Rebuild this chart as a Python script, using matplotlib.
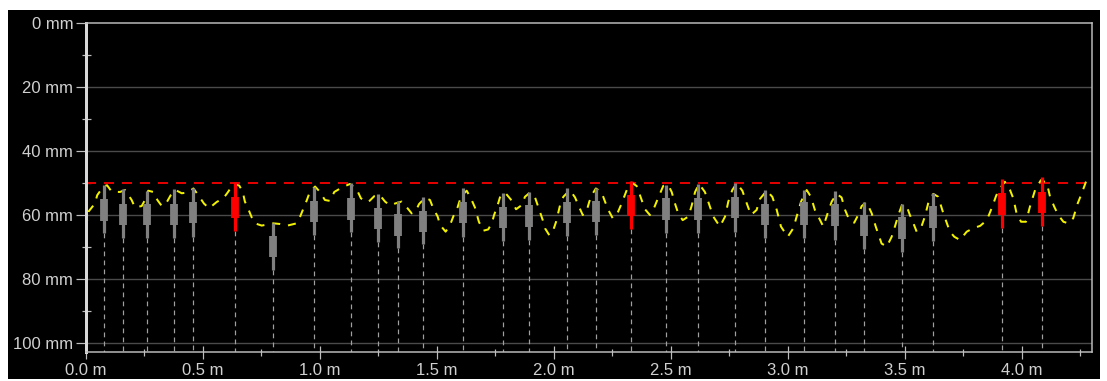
import matplotlib
matplotlib.use("Agg")
import matplotlib.pyplot as plt
from matplotlib.patches import Rectangle
from matplotlib.ticker import FixedLocator, FixedFormatter

# ---- data -------------------------------------------------------------
# distance along the run (m) of each measured element
candle_x = [0.077, 0.157, 0.259, 0.376, 0.456, 0.638, 0.800, 0.973, 1.131,
            1.247, 1.332, 1.441, 1.612, 1.783, 1.893, 2.057, 2.179, 2.330,
            2.477, 2.617, 2.775, 2.903, 3.067, 3.201, 3.325, 3.486, 3.621,
            3.913, 4.084]
# depth statistics (mm): extreme min, lower quartile, upper quartile, extreme max
wick_top = [50.6, 52.0, 52.4, 52.0, 51.7, 49.7, 62.4, 51.1, 50.1, 53.4, 55.5,
            54.3, 51.7, 53.0, 52.7, 51.7, 51.4, 49.4, 50.6, 50.3, 50.1, 52.2,
            52.2, 52.5, 55.8, 56.4, 53.0, 48.9, 48.2]
body_top = [55.1, 56.4, 56.4, 56.4, 55.8, 54.3, 66.6, 55.5, 54.6, 57.7, 59.8,
            58.6, 56.0, 57.4, 56.9, 56.0, 55.6, 53.8, 54.8, 54.6, 54.3, 56.4,
            55.8, 56.4, 60.0, 60.7, 57.2, 53.2, 52.7]
body_bottom = [61.8, 63.1, 63.1, 63.1, 62.6, 60.8, 73.2, 62.1, 61.4, 64.5, 66.6,
               65.2, 62.6, 64.2, 63.6, 62.6, 62.3, 60.3, 61.4, 61.4, 60.8, 63.1,
               63.1, 63.4, 66.6, 67.5, 63.9, 60.0, 59.5]
wick_bottom = [65.7, 67.3, 67.3, 67.3, 66.8, 64.9, 77.2, 66.3, 65.2, 68.3, 70.4,
               69.1, 66.8, 68.0, 67.8, 66.6, 66.3, 64.5, 65.5, 65.5, 65.2, 67.3,
               67.3, 67.8, 70.7, 71.5, 68.1, 64.2, 63.4]

# continuous profile trace (m, mm)
profile_x = [0.000, 0.010, 0.038, 0.048, 0.074, 0.090, 0.110, 0.145, 0.167,
             0.195, 0.209, 0.238, 0.252, 0.266, 0.288, 0.305, 0.324, 0.342,
             0.362, 0.383, 0.409, 0.433, 0.459, 0.480, 0.504, 0.526, 0.559,
             0.587, 0.608, 0.629, 0.655, 0.670, 0.679, 0.694, 0.708, 0.722,
             0.751, 0.772, 0.800, 0.829, 0.861, 0.900, 0.915, 0.929, 0.943,
             0.957, 0.979, 1.000, 1.021, 1.043, 1.061, 1.093, 1.128, 1.157,
             1.175, 1.206, 1.232, 1.256, 1.278, 1.299, 1.321, 1.349, 1.371,
             1.392, 1.413, 1.423, 1.449, 1.470, 1.484, 1.503, 1.513, 1.537,
             1.556, 1.570, 1.588, 1.603, 1.627, 1.645, 1.662, 1.679, 1.698,
             1.719, 1.735, 1.744, 1.758, 1.769, 1.791, 1.815, 1.838, 1.862,
             1.876, 1.897, 1.919, 1.937, 1.952, 1.962, 1.980, 1.997, 2.009,
             2.026, 2.040, 2.068, 2.090, 2.108, 2.123, 2.140, 2.151, 2.161,
             2.179, 2.204, 2.218, 2.232, 2.251, 2.271, 2.289, 2.311, 2.332,
             2.353, 2.375, 2.389, 2.410, 2.427, 2.446, 2.467, 2.488, 2.503,
             2.517, 2.531, 2.550, 2.574, 2.588, 2.603, 2.620, 2.645, 2.662,
             2.681, 2.709, 2.731, 2.745, 2.762, 2.781, 2.805, 2.824, 2.842,
             2.866, 2.880, 2.909, 2.933, 2.952, 2.970, 2.999, 3.023, 3.037,
             3.056, 3.080, 3.098, 3.115, 3.137, 3.151, 3.172, 3.187, 3.208,
             3.229, 3.244, 3.261, 3.283, 3.300, 3.315, 3.336, 3.358, 3.375,
             3.400, 3.422, 3.443, 3.457, 3.474, 3.487, 3.507, 3.521, 3.535,
             3.550, 3.568, 3.585, 3.600, 3.621, 3.642, 3.664, 3.678, 3.692,
             3.711, 3.735, 3.764, 3.792, 3.821, 3.842, 3.856, 3.873, 3.888,
             3.899, 3.927, 3.949, 3.963, 3.977, 3.996, 4.017, 4.034, 4.056,
             4.081, 4.106, 4.120, 4.138, 4.155, 4.177, 4.198, 4.219, 4.238,
             4.255, 4.277, 4.284]
profile_mm = [64.0, 59.0, 56.4, 53.8, 51.1, 50.7, 52.7, 52.8, 52.2, 55.3, 57.6,
              57.2, 55.3, 52.4, 52.8, 55.3, 57.2, 56.4, 53.8, 52.2, 53.2, 53.0,
              51.7, 53.8, 56.4, 57.9, 55.9, 54.8, 52.7, 50.3, 50.8, 52.8, 55.8,
              58.2, 60.7, 62.6, 63.3, 63.0, 62.6, 62.8, 63.3, 62.6, 60.5, 58.0,
              55.5, 52.7, 51.1, 52.8, 55.3, 55.6, 52.8, 51.4, 50.3, 52.0, 54.8,
              56.0, 54.1, 53.8, 55.8, 57.0, 56.4, 55.8, 57.6, 59.5, 58.2, 56.6,
              54.6, 55.3, 57.9, 60.5, 63.1, 65.2, 63.1, 60.4, 57.6, 54.1, 52.4,
              54.8, 57.6, 62.1, 64.9, 64.5, 62.4, 60.0, 57.2, 54.5, 53.0, 55.1,
              58.2, 56.9, 54.3, 53.0, 54.5, 58.4, 61.6, 64.2, 66.3, 64.7, 62.1,
              56.9, 54.3, 52.2, 54.5, 57.6, 60.0, 58.6, 55.8, 53.8, 51.7, 53.0,
              55.8, 58.4, 61.0, 59.5, 56.4, 52.2, 49.9, 50.9, 55.3, 58.2, 60.0,
              57.9, 54.5, 50.9, 50.6, 52.8, 56.4, 59.5, 61.6, 60.5, 57.2, 52.8,
              50.3, 52.8, 56.4, 60.5, 63.6, 60.5, 55.8, 52.2, 50.1, 52.4, 56.4,
              60.0, 58.4, 55.0, 52.4, 54.3, 58.4, 63.6, 66.8, 64.1, 60.5, 55.8,
              52.2, 54.3, 58.4, 61.6, 63.6, 58.9, 55.8, 53.4, 54.5, 58.4, 61.4,
              62.4, 60.0, 57.2, 56.0, 59.5, 63.6, 68.9, 69.9, 66.8, 63.6, 59.5,
              56.9, 57.2, 60.0, 62.4, 65.2, 64.1, 60.5, 56.1, 53.4, 54.3, 59.5,
              62.4, 65.2, 66.8, 67.8, 65.2, 64.1, 63.4, 62.1, 60.5, 57.4, 54.3,
              52.4, 49.6, 52.2, 54.8, 59.5, 62.1, 62.1, 57.4, 52.2, 49.1, 49.9,
              54.3, 57.4, 60.0, 62.1, 62.6, 61.0, 56.4, 53.3, 48.9, 48.3]

limit_mm = 50.0

y_ticks = [0, 20, 40, 60, 80, 100]
y_minor = [10, 30, 50, 70, 90]
y_labels = ["0 mm", "20 mm", "40 mm", "60 mm", "80 mm", "100 mm"]
x_ticks = [0.0, 0.5, 1.0, 1.5, 2.0, 2.5, 3.0, 3.5, 4.0]
x_minor = [0.25, 0.75, 1.25, 1.75, 2.25, 2.75, 3.25, 3.75, 4.25]
x_labels = ["0.0 m", "0.5 m", "1.0 m", "1.5 m", "2.0 m", "2.5 m", "3.0 m",
            "3.5 m", "4.0 m"]

# ---- figure -----------------------------------------------------------
W, H = 1107, 381
plt.rcParams["font.family"] = ["Liberation Sans", "DejaVu Sans"]
fig = plt.figure(figsize=(W / 100, H / 100), dpi=100, facecolor="white")
fig.patches.append(Rectangle((8 / W, 1 - 379 / H), (1100 - 8) / W, (379 - 10) / H,
                             transform=fig.transFigure, facecolor="black",
                             edgecolor="none", zorder=-10))

ax = fig.add_axes([86 / W, 1 - 352 / H, (1091.7 - 86) / W, (352 - 23) / H])
ax.set_zorder(1)
ax.set_facecolor("black")
ax.set_xlim(0, 4.298)
ax.set_ylim(102.8, 0)

PX = 0.72  # points per pixel
label_col = "#d0d0d0"
frame_col = "#bdbdbd"

# horizontal grid
for v in y_ticks[1:]:
    ax.axhline(v, color="#4a4a4a", lw=1.4 * PX, zorder=1)

# drop lines from each element to the axis
ax.vlines(candle_x, wick_bottom, [102.8] * len(candle_x), colors="#a0a0a0",
          lw=1.2 * PX, linestyles=(0, (4, 3.5)), zorder=2)

# limit line
ax.axhline(limit_mm, color="#e00000", lw=2 * PX, ls=(0, (5, 4)), zorder=3)

# profile trace
ax.plot(profile_x, profile_mm, color="#f2f200", lw=2 * PX, ls=(0, (4, 4)),
        zorder=4)

# elements: wick + body, red where the limit is exceeded
colors = ["#ff0000" if t < limit_mm else "#808080" for t in wick_top]
ax.vlines(candle_x, wick_top, wick_bottom, colors=colors, lw=3.2 * PX, zorder=5)
ax.vlines(candle_x, body_top, body_bottom, colors=colors, lw=7.8 * PX, zorder=6)

# frame
for side in ("top", "right", "bottom"):
    ax.spines[side].set_color(frame_col)
    ax.spines[side].set_linewidth(1.5 * PX)
ax.spines["left"].set_color("#d8d8d8")
ax.spines["left"].set_linewidth(3 * PX)
for s in ax.spines.values():
    s.set_zorder(7)

ax.yaxis.set_major_locator(FixedLocator(y_ticks))
ax.yaxis.set_major_formatter(FixedFormatter(y_labels))
ax.yaxis.set_minor_locator(FixedLocator(y_minor))
ax.xaxis.set_major_locator(FixedLocator(x_ticks))
ax.xaxis.set_major_formatter(FixedFormatter(x_labels))
ax.xaxis.set_minor_locator(FixedLocator(x_minor))

ax.tick_params(axis="y", which="major", direction="out", length=10 * PX,
               width=1.2 * PX, color=frame_col, labelcolor=label_col,
               labelsize=12, pad=2)
ax.tick_params(axis="y", which="minor", direction="inout", length=9 * PX,
               width=1.2 * PX, color=frame_col)
ax.tick_params(axis="x", which="major", direction="inout", length=13 * PX,
               width=1.2 * PX, color=frame_col, labelcolor=label_col,
               labelsize=12, pad=3)
ax.tick_params(axis="x", which="minor", direction="inout", length=7 * PX,
               width=1.2 * PX, color=frame_col)

fig.savefig("out.png", dpi=100, facecolor="white")
